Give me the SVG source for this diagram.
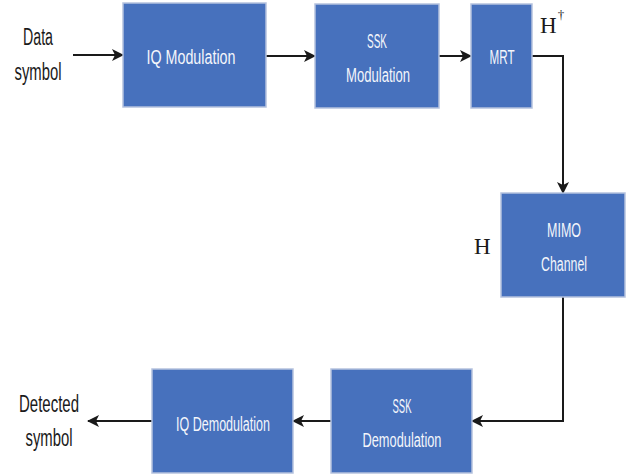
<svg xmlns="http://www.w3.org/2000/svg" width="633" height="475" viewBox="0 0 633 475">
<defs>
<marker id="ah" markerWidth="12" markerHeight="12" refX="11" refY="6" orient="auto" markerUnits="userSpaceOnUse">
<path d="M0,0 L12,6 L0,12 L3,6 Z" fill="#1a1a1a"/>
</marker>
<style>
.box{fill:#4771BD;stroke:#b5c2de;stroke-width:1.5}
.bt{font-family:"Liberation Sans",Arial,sans-serif;font-size:20px;fill:#f4f6fb;text-anchor:middle}
.ot{font-family:"Liberation Sans",Arial,sans-serif;font-size:23px;fill:#1a1a1a;text-anchor:middle}
.mt{font-family:"Liberation Serif","Times New Roman",serif;font-size:23px;fill:#1a1a1a}
.c{fill:none;stroke:#1a1a1a;stroke-width:2;marker-end:url(#ah)}
</style>
</defs>
<rect width="633" height="475" fill="#fff"/>
<g id="connectors">
<path class="c" d="M73,55 H123"/>
<path class="c" d="M266,56 H315"/>
<path class="c" d="M439,56 H471"/>
<path class="c" d="M532,56 H563 V193"/>
<path class="c" d="M563,297 V421 H472"/>
<path class="c" d="M331,421 H293"/>
<path class="c" d="M152,421 H88"/>
</g>
<g id="data-symbol">
<text class="ot" x="38" y="45" textLength="30" lengthAdjust="spacingAndGlyphs">Data</text>
<text class="ot" x="38" y="80" textLength="47" lengthAdjust="spacingAndGlyphs">symbol</text>
</g>
<g id="iq-modulation">
<rect class="box" x="123" y="3" width="143" height="104"/>
<text class="bt" x="191" y="64" textLength="89" lengthAdjust="spacingAndGlyphs">IQ Modulation</text>
</g>
<g id="ssk-modulation">
<rect class="box" x="315" y="4" width="124" height="104"/>
<text class="bt" x="377" y="48" textLength="20" lengthAdjust="spacingAndGlyphs">SSK</text>
<text class="bt" x="378" y="82" textLength="64" lengthAdjust="spacingAndGlyphs">Modulation</text>
</g>
<g id="mrt">
<rect class="box" x="471" y="4" width="61" height="104"/>
<text class="bt" x="502" y="64" textLength="25" lengthAdjust="spacingAndGlyphs">MRT</text>
</g>
<g id="h-dagger">
<text class="mt" x="540" y="33">H<tspan dx="1" dy="-14" style="font-size:13px">†</tspan></text>
</g>
<g id="mimo-channel">
<rect class="box" x="501" y="193" width="124" height="104"/>
<text class="bt" x="564" y="237" textLength="34" lengthAdjust="spacingAndGlyphs">MIMO</text>
<text class="bt" x="564" y="271" textLength="46" lengthAdjust="spacingAndGlyphs">Channel</text>
</g>
<g id="h-label">
<text class="mt" x="474" y="254">H</text>
</g>
<g id="ssk-demodulation">
<rect class="box" x="331" y="369" width="141" height="104"/>
<text class="bt" x="402" y="413" textLength="19" lengthAdjust="spacingAndGlyphs">SSK</text>
<text class="bt" x="402" y="447" textLength="79" lengthAdjust="spacingAndGlyphs">Demodulation</text>
</g>
<g id="iq-demodulation">
<rect class="box" x="152" y="369" width="141" height="104"/>
<text class="bt" x="223" y="431" textLength="94" lengthAdjust="spacingAndGlyphs">IQ Demodulation</text>
</g>
<g id="detected-symbol">
<text class="ot" x="49" y="412" textLength="60" lengthAdjust="spacingAndGlyphs">Detected</text>
<text class="ot" x="49" y="446" textLength="47" lengthAdjust="spacingAndGlyphs">symbol</text>
</g>
</svg>
